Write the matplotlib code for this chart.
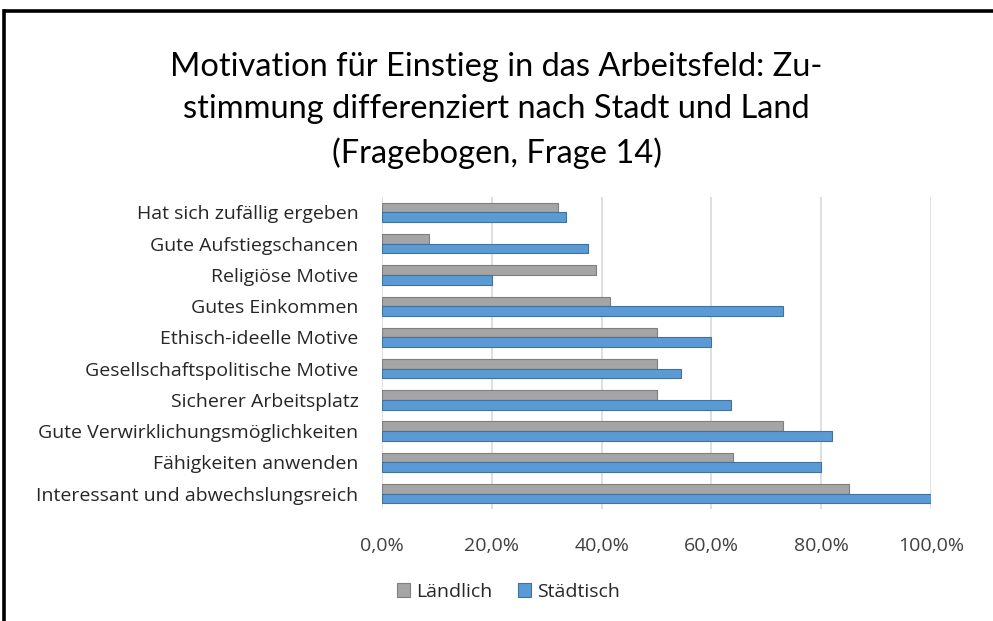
import matplotlib.pyplot as plt
import matplotlib.lines as mlines
import numpy as np

CATEGORIES = [
    "Hat sich zufällig ergeben",
    "Gute Aufstiegschancen",
    "Religiöse Motive",
    "Gutes Einkommen",
    "Ethisch-ideelle Motive",
    "Gesellschaftspolitische Motive",
    "Sicherer Arbeitsplatz",
    "Gute Verwirklichungsmöglichkeiten",
    "Fähigkeiten anwenden",
    "Interessant und abwechslungsreich",
]
LAENDLICH = [32.0, 8.5, 39.0, 41.5, 50.0, 50.0, 50.0, 73.0, 64.0, 85.0]
STAEDTISCH = [33.5, 37.5, 20.0, 73.0, 60.0, 54.5, 63.5, 82.0, 80.0, 100.0]
X_TICKS = [0, 20, 40, 60, 80, 100]
TITLE = ("Motivation für Einstieg in das Arbeitsfeld: Zu-\n"
         "stimmung differenziert nach Stadt und Land\n"
         "(Fragebogen, Frage 14)")

GREY = "#A5A5A5"
BLUE = "#5B9BD5"
LABEL_FONT = ["Open Sans", "DejaVu Sans"]

plt.rcParams["font.family"] = ["Lato", "DejaVu Sans"]


def main() -> None:
    fig = plt.figure(figsize=(9.93, 6.21), dpi=100)
    ax = fig.add_axes([0.3847, 0.180, 0.553, 0.503])

    # top row first -> reverse order on y
    n = len(CATEGORIES)
    y = np.arange(n)[::-1]
    h = 0.31

    ax.barh(y + h / 2, LAENDLICH, height=h, color=GREY,
            edgecolor="#7F7F7F", linewidth=0.8, label="Ländlich", zorder=3)
    ax.barh(y - h / 2, STAEDTISCH, height=h, color=BLUE,
            edgecolor="#41719C", linewidth=0.8, label="Städtisch", zorder=3)

    ax.set_xlim(0, 100)
    ax.set_ylim(-0.5, n - 0.5)
    ax.set_xticks(X_TICKS)
    ax.set_xticklabels([f"{v:.1f}%".replace(".", ",") for v in X_TICKS],
                       fontsize=14, color="#404040", family=LABEL_FONT)
    ax.set_yticks(y)
    ax.set_yticklabels(CATEGORIES, fontsize=14, color="#262626",
                       family=LABEL_FONT)
    ax.tick_params(axis="both", length=0)
    ax.tick_params(axis="x", pad=20)
    ax.tick_params(axis="y", pad=17)

    ax.xaxis.grid(True, color="#D9D9D9", linewidth=1.2, zorder=0)
    ax.set_axisbelow(True)
    for side in ["top", "right", "bottom", "left"]:
        ax.spines[side].set_visible(False)

    fig.text(0.5, 0.822, TITLE, ha="center", va="center", fontsize=23.5,
             color="#000000", linespacing=1.52)

    fig.legend(loc="center", bbox_to_anchor=(0.512, 0.047), ncol=2,
               frameon=False, handlelength=0.7, handleheight=0.7,
               handletextpad=0.3, columnspacing=1.3, labelcolor="#262626",
               prop={"family": LABEL_FONT, "size": 14})

    # partial frame (top and left)
    fig.add_artist(mlines.Line2D([0.005, 1.0], [0.982, 0.982],
                                 color="black", linewidth=2.6,
                                 transform=fig.transFigure))
    fig.add_artist(mlines.Line2D([0.0045, 0.0045], [0.0, 0.982],
                                 color="black", linewidth=2.6,
                                 transform=fig.transFigure))

    fig.savefig("out.png", dpi=100)
    plt.close(fig)


if __name__ == "__main__":
    main()
